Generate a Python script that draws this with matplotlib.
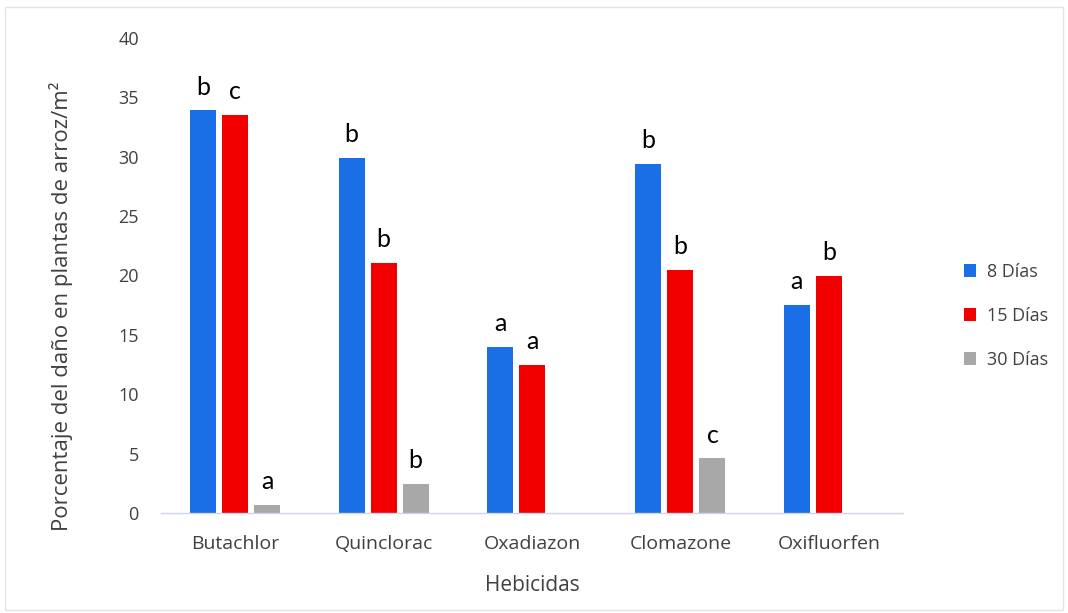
import matplotlib
matplotlib.use("Agg")
import matplotlib.pyplot as plt
import numpy as np
from matplotlib.patches import Rectangle

# Herbicide damage data (% damage per m2 at 8, 15 and 30 days)
herbicidas = ["Butachlor", "Quinclorac", "Oxadiazon", "Clomazone", "Oxifluorfen"]
series_names = ["8 Días", "15 Días", "30 Días"]
dias_8 = [33.9, 29.9, 14.0, 29.4, 17.5]
dias_15 = [33.5, 21.05, 12.45, 20.5, 20.0]
dias_30 = [0.65, 2.45, 0.0, 4.6, 0.0]
letras_8 = ["b", "b", "a", "b", "a"]
letras_15 = ["c", "b", "a", "b", "b"]
letras_30 = ["a", "b", "", "c", ""]
yticks = [0, 5, 10, 15, 20, 25, 30, 35, 40]

colors = ["#1a6ee6", "#f20000", "#a8a8a8"]
plt.rcParams["font.family"] = ["Open Sans", "DejaVu Sans"]
txt_color = "#404040"

fig = plt.figure(figsize=(10.68, 6.13), dpi=100)
ax = fig.add_axes([161 / 1068, 1 - 513 / 613, (903 - 161) / 1068, (513 - 38) / 613])

x = np.arange(len(herbicidas))
width = 0.175
offsets = [-0.216, 0.0, 0.216]
all_vals = [dias_8, dias_15, dias_30]
all_letters = [letras_8, letras_15, letras_30]

for vals, lets, off, col, name in zip(all_vals, all_letters, offsets, colors, series_names):
    bars = ax.bar(x + off, vals, width, color=col, label=name, zorder=2)
    for b, v, l in zip(bars, vals, lets):
        if l:
            ax.annotate(l, (b.get_x() + b.get_width() / 2, v),
                        xytext=(0, 8.5), textcoords="offset points",
                        ha="center", va="bottom", fontsize=18, color="black",
                        family=["Lato", "DejaVu Sans"])

ax.set_xlim(-0.5, len(herbicidas) - 0.5)
ax.set_ylim(0, 40)
ax.set_yticks(yticks)
ax.set_xticks(x)
ax.set_xticklabels(herbicidas)
for s in ["top", "right", "left"]:
    ax.spines[s].set_visible(False)
ax.spines["bottom"].set_color("#d0d4e4")
ax.spines["bottom"].set_linewidth(1.0)
ax.tick_params(axis="y", length=0, labelsize=13, labelcolor=txt_color, pad=16)
ax.tick_params(axis="x", length=0, labelsize=14, labelcolor=txt_color, pad=16)

ax.set_xlabel("Hebicidas", fontsize=15, color=txt_color, labelpad=16)
ax.set_ylabel("Porcentaje del daño en plantas de arroz/m²", fontsize=16,
              color=txt_color)
ax.yaxis.set_label_coords(-0.119, 0.436)

leg = ax.legend(loc="center left", bbox_to_anchor=(1.06, 0.415), frameon=False,
                fontsize=13, handlelength=0.7, handleheight=0.7,
                labelspacing=1.45, handletextpad=0.6, labelcolor=txt_color)

# faint outer chart frame
fig.patches.append(Rectangle((5 / 1068, 0.005), 1 - 10 / 1068, 1 - 10 / 613,
                             transform=fig.transFigure, fill=False,
                             edgecolor="#e4e4e4", linewidth=1.0))

fig.savefig("out.png", dpi=100, facecolor="white")
